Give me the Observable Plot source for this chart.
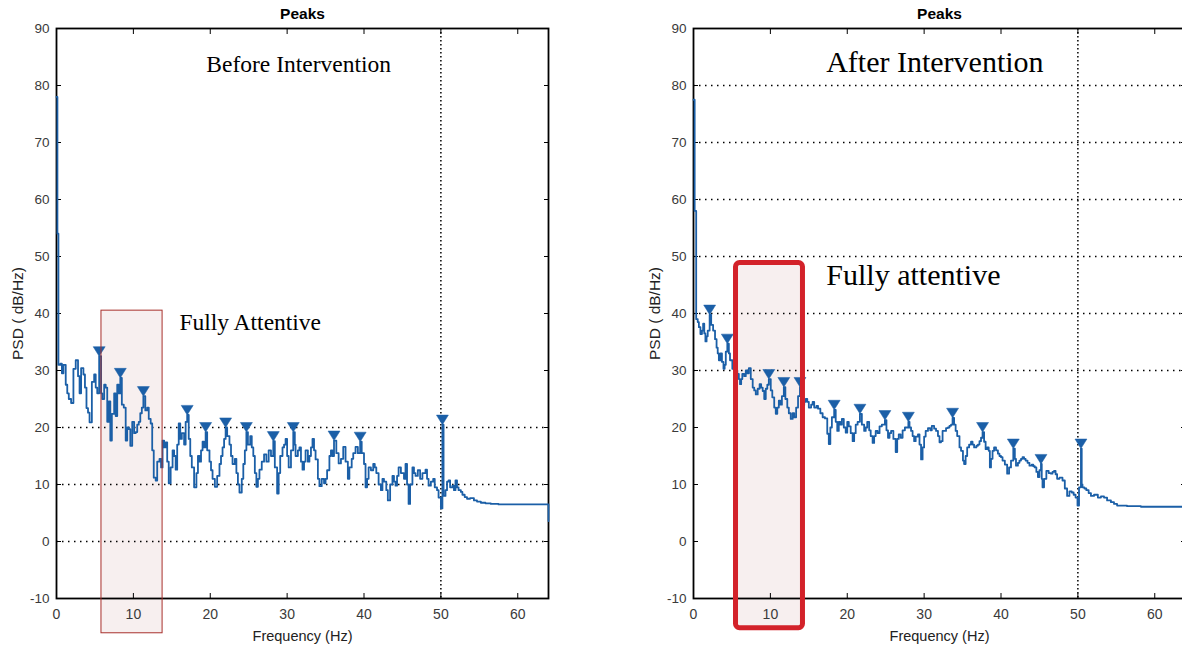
<!DOCTYPE html>
<html>
<head>
<meta charset="utf-8">
<script src="https://cdn.jsdelivr.net/npm/d3@7"></script>
<script src="https://cdn.jsdelivr.net/npm/@observablehq/plot@0.6"></script>
<style>
  html, body { margin: 0; padding: 0; background: #fff; overflow: hidden; }
  #wrap { display: flex; width: 1182px; height: 648px; overflow: hidden; }
  #wrap svg { flex: none; display: block; }
</style>
</head>
<body>
<div id="wrap"></div>
<script>
// ---------- data ----------
const titleText = "Peaks";
const xLabelText = "Frequency (Hz)";
const yLabelText = "PSD ( dB/Hz)";
const freqDomain = [0, 64];
const psdDomain = [-10, 90];
const freqTicks = [0, 10, 20, 30, 40, 50, 60];
const psdTicks = [-10, 0, 10, 20, 30, 40, 50, 60, 70, 80, 90];
const gridFreq = [50];
const gridBefore = [0, 10, 20];
const gridAfter = [30, 40, 50, 60, 70, 80];

const beforeFreq = [
  0, 0.12, 0.25, 0.5, 0.7, 0.9, 1.2, 1.4, 1.6, 1.9,
  2.2, 2.5, 2.8, 3.0, 3.2, 3.5, 3.7, 3.9, 4.1, 4.3,
  4.6, 4.9, 5.1, 5.3, 5.55, 5.8, 5.95, 6.2, 6.4, 6.6,
  6.8, 7.0, 7.2, 7.5, 7.7, 7.9, 8.1, 8.3, 8.5, 8.75,
  9.0, 9.2, 9.4, 9.6, 9.85, 10.1, 10.3, 10.5, 10.7, 10.9,
  11.1, 11.3, 11.55, 11.8, 12.0, 12.25, 12.45, 12.65, 12.9, 13.1,
  13.4, 13.6, 13.8, 14.0, 14.2, 14.4, 14.6, 14.85, 15.1, 15.3,
  15.5, 15.7, 15.9, 16.1, 16.3, 16.6, 16.8, 17.0, 17.2, 17.4,
  17.6, 17.9, 18.2, 18.4, 18.6, 18.8, 19.0, 19.2, 19.4, 19.6,
  19.9, 20.1, 20.3, 20.6, 20.9, 21.2, 21.4, 21.6, 21.8, 22.0,
  22.2, 22.5, 22.7, 22.9, 23.2, 23.4, 23.6, 23.8, 24.1, 24.3,
  24.5, 24.7, 24.9, 25.2, 25.4, 25.6, 25.8, 26.0, 26.2, 26.4,
  26.7, 27.0, 27.3, 27.6, 27.9, 28.2, 28.4, 28.7, 28.9, 29.1,
  29.4, 29.6, 29.8, 30.0, 30.2, 30.5, 30.8, 31.0, 31.1, 31.4,
  31.6, 31.8, 32.0, 32.2, 32.4, 32.7, 32.9, 33.1, 33.3, 33.5,
  33.7, 34.0, 34.2, 34.5, 34.8, 35.0, 35.2, 35.5, 35.7, 35.9,
  36.1, 36.4, 36.7, 37.0, 37.3, 37.6, 37.9, 38.1, 38.4, 38.6,
  38.9, 39.2, 39.5, 39.7, 40.0, 40.2, 40.4, 40.6, 40.9, 41.2,
  41.4, 41.6, 41.9, 42.2, 42.4, 42.6, 42.9, 43.1, 43.4, 43.7,
  43.9, 44.1, 44.3, 44.5, 44.8, 45.0, 45.2, 45.4, 45.6, 45.8,
  46.0, 46.3, 46.5, 46.7, 47.0, 47.3, 47.6, 48.0, 48.2, 48.4,
  48.7, 49.0, 49.2, 49.5, 49.7, 50.0, 50.2, 50.35, 50.6, 50.8,
  51.0, 51.2, 51.5, 51.7, 51.9, 52.1, 52.3, 52.6, 52.8, 53.1,
  53.4, 53.8, 54.3, 54.7, 55.2, 55.8, 56.5, 57.5, 58.7, 63.8,
  64
];
const beforePsd = [
  78, 54, 31, 31.2, 29.5, 31, 27.5, 26, 25, 24.3,
  30.3, 31.8, 29, 26, 30.4, 29.3, 27, 23.4, 22.6, 20.9,
  28, 29.3, 27, 26, 32.5, 26, 25, 27.5, 27, 21,
  24.6, 17.7, 22.4, 26, 22, 27.5, 26, 28.7, 24, 23.5,
  17.7, 20, 19.7, 16.8, 21, 19, 19.2, 20.5, 21, 22.5,
  23.5, 25.5, 23, 23.5, 21.5, 20.7, 16, 11.2, 10.7, 14,
  14.5, 13, 17.7, 16.5, 17.4, 14, 10.2, 13, 16, 15,
  12.6, 17, 20.7, 18, 19, 17, 21, 22.2, 18, 15,
  13, 9.5, 12, 15, 14, 16, 17.5, 16.5, 19.2, 16,
  14, 12.5, 11, 9.6, 11.5, 13.6, 15, 16.5, 18, 20,
  18.5, 17, 15, 13.6, 14.5, 12, 10, 8.6, 11, 13.6,
  16, 19.2, 17, 18.5, 16.5, 15, 12, 9.6, 11, 12.6,
  14, 15.3, 14, 16, 15, 17.6, 13, 8.4, 12, 15,
  16.5, 17, 18, 15, 13, 16, 19.2, 17, 15, 16,
  16.5, 14, 12.6, 14, 16, 14, 15, 16.5, 18, 16,
  14.4, 11, 9.7, 11, 10.2, 11, 12.5, 15, 16, 15,
  17.7, 15.5, 13.7, 14.5, 16.6, 14, 11, 13, 14.5, 15.5,
  16.6, 15.5, 17.5, 15.5, 13.6, 9.5, 11, 13, 12.5, 13.6,
  13, 12, 10, 9, 11, 10.5, 9, 7.2, 10, 11.5,
  10.5, 9.8, 11.5, 13, 12, 12, 11, 13.6, 10, 6.6,
  10, 13, 12, 11.5, 12.5, 11, 12, 12.6, 11, 9.8,
  10.5, 11, 9.5, 9, 7.7, 5.8, 20.5, 8, 9, 10.5,
  10.7, 9.5, 9.8, 9, 10.7, 9.5, 9, 8.7, 8.2, 7.8,
  7.5, 7.6, 7.2, 7.0, 6.8, 6.7, 6.6, 6.5, 6.5, 6.5,
  3.6
];
const beforePeakFreq = [5.55, 8.3, 11.3, 17.0, 19.4, 22.0, 24.7, 28.2, 30.8, 36.1, 39.5, 50.2];
const beforePeakPsd  = [32.5, 28.7, 25.5, 22.2, 19.2, 20.0, 19.2, 17.6, 19.2, 17.7, 17.5, 20.5];

const afterFreq = [
  0, 0.15, 0.35, 0.55, 0.7, 0.9, 1.1, 1.25, 1.4, 1.55,
  1.7, 1.85, 2.1, 2.3, 2.55, 2.8, 3.0, 3.15, 3.3, 3.5,
  3.7, 3.9, 4.05, 4.2, 4.4, 4.6, 4.75, 5.05, 5.3, 5.5,
  5.7, 5.9, 6.05, 6.2, 6.35, 6.6, 6.8, 7.0, 7.2, 7.45,
  7.7, 7.9, 8.1, 8.35, 8.6, 8.8, 9.0, 9.2, 9.4, 9.6,
  9.8, 10.05, 10.25, 10.5, 10.7, 10.9, 11.1, 11.3, 11.5, 11.75,
  11.95, 12.2, 12.4, 12.65, 12.9, 13.1, 13.35, 13.6, 13.85, 14.0,
  14.2, 14.4, 14.6, 14.8, 15.0, 15.3, 15.5, 15.7, 16.0, 16.2,
  16.5, 16.8, 17.1, 17.4, 17.6, 17.8, 18.0, 18.3, 18.5, 18.7,
  18.9, 19.1, 19.3, 19.55, 19.8, 20.0, 20.2, 20.45, 20.7, 20.9,
  21.1, 21.35, 21.65, 21.9, 22.2, 22.4, 22.6, 22.85, 23.05, 23.3,
  23.5, 23.7, 23.95, 24.2, 24.5, 24.9, 25.1, 25.3, 25.5, 25.7,
  26.0, 26.3, 26.5, 26.7, 26.95, 27.2, 27.5, 27.95, 28.1, 28.3,
  28.5, 28.7, 28.9, 29.2, 29.4, 29.6, 29.8, 30.0, 30.2, 30.5,
  30.8, 31.0, 31.3, 31.55, 31.8, 32.0, 32.2, 32.4, 32.6, 32.85,
  33.1, 33.3, 33.5, 33.7, 33.9, 34.1, 34.3, 34.6, 34.8, 35.05,
  35.2, 35.4, 35.6, 35.85, 36.1, 36.3, 36.5, 36.8, 37.0, 37.2,
  37.4, 37.6, 37.8, 38.0, 38.2, 38.4, 38.55, 38.7, 38.9, 39.1,
  39.35, 39.6, 39.8, 40.0, 40.2, 40.5, 40.8, 41.05, 41.3, 41.6,
  41.8, 41.95, 42.2, 42.4, 42.6, 42.8, 43.0, 43.2, 43.45, 43.7,
  44.0, 44.2, 44.4, 44.6, 44.8, 45.0, 45.2, 45.3, 45.4, 45.6,
  45.9, 46.2, 46.5, 46.7, 46.9, 47.1, 47.3, 47.6, 48.0, 48.3,
  48.6, 48.9, 49.2, 49.45, 49.7, 49.95, 50.15, 50.4, 50.5, 50.6,
  50.85, 51.1, 51.4, 51.7, 52.1, 52.6, 53.0, 53.4, 53.8, 54.3,
  54.7, 55.1, 55.7, 56.4, 57.3, 58.2, 64
];
const afterPsd = [
  77.5, 58, 39, 38.5, 37.6, 36.4, 37, 38.2, 36.5, 35.1,
  36, 37, 39.8, 38, 37, 35.5, 34, 33, 31.8, 33,
  31.5, 30.3, 31, 33.3, 34.7, 33, 31.8, 30.3, 31, 30,
  29.4, 28.5, 27.6, 28.5, 29.4, 29, 30, 29.5, 30.4, 28.5,
  27, 26.5, 25.8, 26.8, 27.6, 27, 26.4, 25, 26.8, 27.5,
  28.5, 26.5, 25.3, 23.5, 22.4, 23.5, 24.7, 24, 25.5, 27.1,
  25, 23.5, 22.5, 21.5, 22.5, 21.8, 23.5, 25.5, 27.1, 25,
  23.9, 24.5, 25, 24.5, 23.5, 24, 24.5, 23.5, 23.8, 23.3,
  22.5, 21.8, 21.6, 18.9, 17.1, 20, 21.8, 23.1, 21, 19.4,
  21, 20.5, 21.5, 20, 19.1, 21, 20.2, 19, 17.6, 19,
  20.5, 21, 22.4, 20.5, 19.4, 20, 21, 19.5, 18.5, 17.3,
  18.5, 19.4, 19, 20.2, 20.5, 21.3, 19.5, 18.2, 19, 19.4,
  18, 15.7, 18, 18.8, 18.2, 19.5, 20, 21.0, 20, 19.4,
  18.5, 17.6, 18.4, 18.8, 17, 14.4, 16.5, 18.4, 19.4, 19.9,
  19.5, 20.3, 19.8, 19.4, 18.5, 17.4, 17.6, 19.4, 19.4, 19.9,
  20, 20.3, 20.5, 21.7, 20.5, 19.4, 18.5, 16.5, 15.9, 14.2,
  13.6, 15, 16.5, 17, 17.5, 17, 16.5, 16.8, 17, 17.6,
  18.2, 19.2, 17.5, 16.2, 16.5, 15.9, 13, 14.5, 15.9, 16.5,
  16, 15.4, 15, 14.8, 14.2, 13.5, 11.9, 13, 14.2, 16.3,
  14.5, 13.3, 13.8, 14.2, 14.5, 14.8, 14.5, 14.2, 13.8, 13.3,
  13.5, 13.2, 13, 12.2, 11.3, 12.5, 13.6, 11, 9.5, 11,
  12.4, 12, 11.9, 12.2, 12.4, 11.8, 11, 11.2, 10.7, 9.3,
  8, 8.8, 8.6, 8.2, 7.7, 6.3, 9.5, 16.3, 10, 9.5,
  9.3, 9, 8.5, 8, 8.2, 7.7, 7.9, 7.7, 7.2, 6.9,
  6.6, 6.3, 6.3, 6.2, 6.2, 6.1, 6.1
];
const afterPeakFreq = [2.1, 4.4, 9.8, 11.75, 13.85, 18.3, 21.65, 24.9, 27.95, 33.7, 37.6, 41.6, 45.2, 50.4];
const afterPeakPsd  = [39.8, 34.7, 28.5, 27.1, 27.1, 23.1, 22.4, 21.3, 21.0, 21.7, 19.2, 16.3, 13.6, 16.3];

// highlighted band (Hz, dB)
const beforeRegion = {x1: 5.85, x2: 13.8, y1: -16.1, y2: 40.5};
const afterRegion  = {x1: 5.53, x2: 14.24, y1: -15.2, y2: 48.86};

// annotation labels (anchor in Hz, dB)
const beforeNotes = [
  {text: "Before Intervention", f: 31.5, p: 83.7},
  {text: "Fully Attentive", f: 25.2, p: 38.4}
];
const afterNotes = [
  {text: "After Intervention", f: 31.4, p: 84.0},
  {text: "Fully attentive", f: 28.6, p: 46.7}
];

// ---------- drawing ----------
const blue = "#1b5fa7";
const sans = "'Liberation Sans', Arial, Helvetica, sans-serif";
const serif = "'Liberation Serif', 'Times New Roman', Times, serif";

// downward triangle with its tip at the data point
const triDown = {
  draw(ctx, size) {
    const s = Math.sqrt(size);
    const w = 1.25 * s, h = s;
    ctx.moveTo(0, 0);
    ctx.lineTo(-w / 2, -h);
    ctx.lineTo(w / 2, -h);
    ctx.closePath();
  }
};

function panel(o) {
  const data = o.freq.map((f, i) => ({f, p: o.psd[i]}));
  const peaks = o.peakFreq.map((f, i) => ({f, p: o.peakPsd[i]}));
  return Plot.plot({
    width: o.width,
    height: 648,
    marginLeft: o.marginLeft,
    marginRight: o.marginRight,
    marginTop: 28,
    marginBottom: 50,
    x: {domain: freqDomain},
    y: {domain: psdDomain},
    style: {fontFamily: sans, fontSize: "13.5px", background: "white", overflow: "visible"},
    marks: [
      Plot.rect([o.region], {x1: "x1", x2: "x2", y1: "y1", y2: "y2", fill: "#f7efef"}),
      Plot.ruleY(o.grid, {stroke: "#000", strokeWidth: 1.5, strokeDasharray: "1.5,4.5"}),
      Plot.ruleX(gridFreq, {stroke: "#000", strokeWidth: 1.5, strokeDasharray: "1.5,2.5"}),
      Plot.axisX(freqTicks, {anchor: "bottom", tickSize: -5, tickPadding: 16, fontSize: 14, color: "#3a3a3a", stroke: "#000", tickFormat: d => String(d), label: null}),
      Plot.axisX(freqTicks, {anchor: "top", tickSize: -5, tickFormat: () => "", stroke: "#000", label: null}),
      Plot.axisY(psdTicks, {anchor: "left", tickSize: -5, tickPadding: 12, fontSize: 13.5, color: "#3a3a3a", stroke: "#000", tickFormat: d => String(d), label: null}),
      Plot.axisY(psdTicks, {anchor: "right", tickSize: -5, tickFormat: () => "", stroke: "#000", label: null}),
      Plot.frame({stroke: "#000", strokeWidth: 1.8}),
      Plot.line(data, {x: "f", y: "p", curve: "step-after", stroke: blue, strokeWidth: 1.8}),
      Plot.dot(peaks, {x: "f", y: "p", symbol: triDown, r: 5.4, fill: blue, stroke: blue, strokeWidth: 0.5}),
      Plot.rect([o.region], {x1: "x1", x2: "x2", y1: "y1", y2: "y2", fill: "none", stroke: o.regionStroke, strokeWidth: o.regionWidth, rx: o.regionRx}),
      Plot.text([titleText], {text: d => d, frameAnchor: "top", lineAnchor: "middle", dy: -14, fontWeight: "bold", fontSize: 15.5, fill: "#000"}),
      Plot.text([xLabelText], {text: d => d, frameAnchor: "bottom", lineAnchor: "middle", dy: 38, fontSize: 14.5, fill: "#222"}),
      Plot.text([yLabelText], {text: d => d, frameAnchor: "left", textAnchor: "middle", lineAnchor: "middle", rotate: -90, dx: -38, fontSize: 15.5, fill: "#222"}),
      Plot.text([o.notes[0]], {x: "f", y: "p", text: "text", fontFamily: serif, fontSize: o.noteSizes[0], fill: "#000"}),
      Plot.text([o.notes[1]], {x: "f", y: "p", text: "text", fontFamily: serif, fontSize: o.noteSizes[1], fill: "#000"})
    ]
  });
}

const wrap = document.getElementById("wrap");
wrap.appendChild(panel({
  width: 600, marginLeft: 56, marginRight: 52,
  freq: beforeFreq, psd: beforePsd,
  peakFreq: beforePeakFreq, peakPsd: beforePeakPsd,
  grid: gridBefore, region: beforeRegion,
  regionStroke: "#a8302c", regionWidth: 1, regionRx: 0,
  notes: beforeNotes, noteSizes: [23.5, 23.5]
}));
wrap.appendChild(panel({
  width: 585, marginLeft: 93, marginRight: 0,
  freq: afterFreq, psd: afterPsd,
  peakFreq: afterPeakFreq, peakPsd: afterPeakPsd,
  grid: gridAfter, region: afterRegion,
  regionStroke: "#d3222a", regionWidth: 5, regionRx: 4,
  notes: afterNotes, noteSizes: [30, 30]
}));
</script>
</body>
</html>
